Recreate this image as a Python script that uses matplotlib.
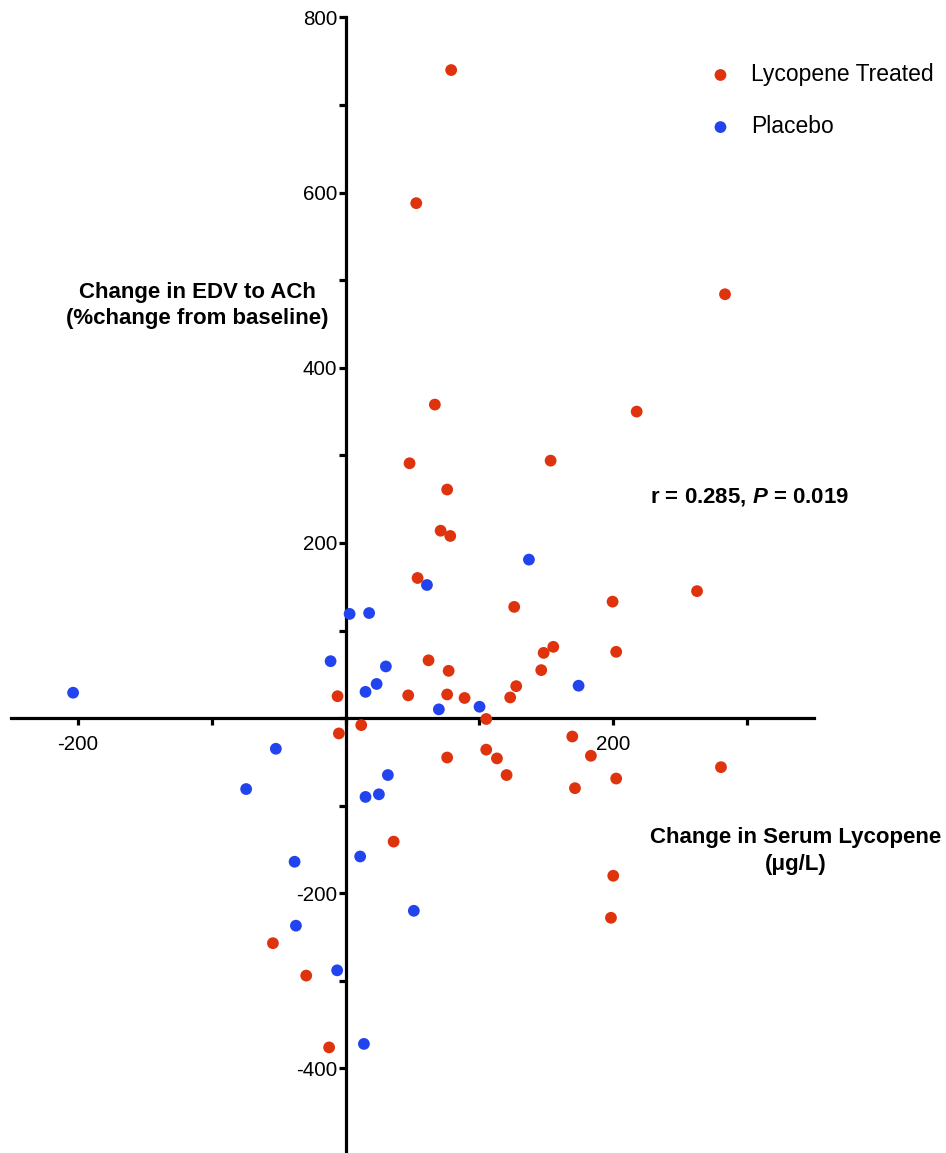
import numpy as np
import matplotlib
matplotlib.use("Agg")
import matplotlib.pyplot as plt

plt.rcParams['font.family'] = ['Liberation Sans', 'DejaVu Sans']
plt.rcParams['mathtext.fontset'] = 'custom'
plt.rcParams['mathtext.it'] = 'Liberation Sans:italic:bold'
plt.rcParams['mathtext.rm'] = 'Liberation Sans:bold'

# Lycopene treated group: change in serum lycopene (ug/L), change in EDV (%)
lyco_x = [78.9, 52.8, 283.5, 217.5, 66.7, 47.8, 153.2, 75.9, 71.0, 78.2,
          53.8, 262.6, 126.0, 199.5, 62.0, 77.0, 148.0, 155.2, 202.2, 146.2,
          127.5, 123.0, -6.0, 46.8, 75.9, 88.9, 105.1, 11.7, -5.0, 75.9,
          105.1, 113.1, 120.3, 169.4, 183.3, 202.2, 171.4, 280.5, 35.9, 200.0,
          198.3, -54.3, -29.4, -12.3]
lyco_y = [740, 588, 484, 350, 358, 291, 294, 261, 214, 208,
          160, 145, 127, 133, 66, 54, 74.5, 81.4, 75.7, 54.8,
          36.5, 23.6, 25, 26, 27, 23, -1, -8, -17.5, -45,
          -36, -46, -65, -21, -43, -69, -80, -56, -141, -180,
          -228, -257, -294, -376]

# Placebo group
plac_x = [137.0, 60.8, 3.0, 17.6, -11.2, 30.1, 23.2, 14.9, 69.7, 100.1,
          174.1, -203.6, -52.1, -74.3, 31.6, 14.9, 24.9, 10.9, -38.1, 51.0,
          -37.1, -6.3, 13.7]
plac_y = [181, 152, 119, 120, 65, 59, 39, 30, 10, 13,
          37, 29, -35, -81, -65, -90, -87, -158, -164, -220,
          -237, -288, -372]

x_ticks = [-200, -100, 0, 100, 200, 300]
x_ticklabels = ['-200', '', '', '', '200', '']
y_ticks = [-400, -300, -200, -100, 0, 100, 200, 300, 400, 500, 600, 700, 800]
y_ticklabels = ['-400', '', '-200', '', '', '', '200', '', '400', '', '600', '', '800']

red = '#DF330D'
blue = '#2244EE'

W, H = 946, 1153
fig = plt.figure(figsize=(W / 100, H / 100), dpi=100)
ax = fig.add_axes([11 / W, (H - 1156) / H, (814 - 11) / W, (1156 - 17.5) / H])
ax.set_xlim(-250, 350)
ax.set_ylim(-500, 800)

ax.scatter(lyco_x, lyco_y, s=72, color=red, edgecolors='none',
           label='Lycopene Treated', zorder=3, clip_on=False)
ax.scatter(plac_x, plac_y, s=72, color=blue, edgecolors='none',
           label='Placebo', zorder=3, clip_on=False)

for side in ['top', 'right']:
    ax.spines[side].set_visible(False)
for side in ['left', 'bottom']:
    ax.spines[side].set_position('zero')
    ax.spines[side].set_linewidth(2.3)

ax.set_xticks(x_ticks, x_ticklabels)
ax.set_yticks(y_ticks, y_ticklabels)
ax.tick_params(axis='both', direction='out', length=5, width=2.3,
               labelsize=14.8, pad=7)
ax.tick_params(axis='y', pad=1)

ax.text(-110.8, 471.5, 'Change in EDV to ACh\n(%change from baseline)',
        ha='center', va='center', fontsize=16, fontweight='bold',
        linespacing=1.32)
ax.text(336.4, -151.5, 'Change in Serum Lycopene\n(\u03bcg/L)',
        ha='center', va='center', fontsize=16, fontweight='bold',
        linespacing=1.4)
ax.text(227.4, 252.6, r'r = 0.285, $P$ = 0.019', ha='left', va='center',
        fontsize=16, fontweight='bold')

ax.legend(loc='upper left', bbox_to_anchor=(709 / W, (H - 63) / H),
          bbox_transform=fig.transFigure, frameon=False, fontsize=16.5,
          scatterpoints=1, handlelength=1.0, handletextpad=0.85,
          labelspacing=1.27, borderpad=0, borderaxespad=0)

fig.savefig('out.png', dpi=100)
